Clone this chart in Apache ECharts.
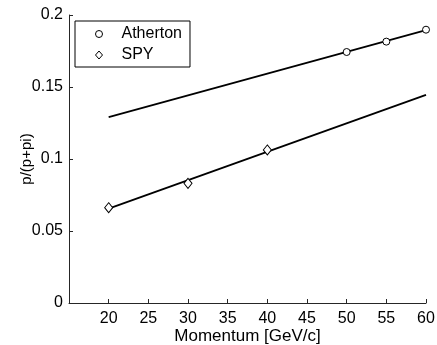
<!DOCTYPE html>
<html>
<head>
<meta charset="utf-8">
<script src="https://cdn.jsdelivr.net/npm/echarts@6/dist/echarts.min.js"></script>
<style>html,body{margin:0;padding:0;background:#fff}#c{width:437px;height:345px}</style>
</head>
<body>
<div id="c"></div>
<script>
var athertonX = [50, 55, 60];
var athertonY = [0.1743, 0.1815, 0.1898];
var spyX = [20, 30, 40];
var spyY = [0.0662, 0.0831, 0.1063];
var athertonFitX = [20, 60];
var athertonFitY = [0.129, 0.1895];
var spyFitX = [20, 60];
var spyFitY = [0.0655, 0.1445];
var xTicks = [20, 25, 30, 35, 40, 45, 50, 55, 60];
var yTicks = [0, 0.05, 0.1, 0.15, 0.2];

function pairs(xs, ys) { return xs.map(function (x, i) { return [x, ys[i]]; }); }

var font = 'Liberation Sans, Arial, sans-serif';
var chart = echarts.init(document.getElementById('c'), null, { renderer: 'canvas' });
chart.setOption({
  animation: false,
  backgroundColor: '#fff',
  grid: { left: 69, right: 11, top: 15, bottom: 42, containLabel: false, outerBoundsMode: 'none' },
  legend: {
    orient: 'vertical',
    left: 75, top: 21,
    padding: [5, 8, 4, 20],
    borderColor: '#000', borderWidth: 1, borderRadius: 0,
    backgroundColor: '#fff',
    itemWidth: 7, itemHeight: 8, itemGap: 5,
    itemStyle: { borderWidth: 1, borderColor: '#000', color: '#fff' },
    data: ['Atherton', 'SPY'],
    textStyle: { fontFamily: font, fontSize: 16, color: '#000', lineHeight: 16, padding: [0, 0, 0, 14] }
  },
  xAxis: {
    type: 'value', min: 15, max: 60, interval: 5,
    name: 'Momentum [GeV/c]', nameLocation: 'middle', nameGap: 25, nameMoveOverlap: false,
    nameTextStyle: { fontFamily: font, fontSize: 17, color: '#000' },
    axisLine: { show: true, onZero: false, lineStyle: { color: '#262626', width: 1 } },
    axisTick: { show: true, inside: true, length: 4, lineStyle: { color: '#262626' } },
    axisLabel: {
      fontFamily: font, fontSize: 16, color: '#000', margin: 8,
      formatter: function (v) { return xTicks.indexOf(v) >= 0 ? String(v) : ''; }
    },
    splitLine: { show: false }
  },
  yAxis: {
    type: 'value', min: 0, max: 0.2, interval: 0.05,
    name: 'p/(p+pi)', nameLocation: 'middle', nameGap: 35, nameMoveOverlap: false,
    nameTextStyle: { fontFamily: font, fontSize: 15, color: '#000' },
    axisLine: { show: true, lineStyle: { color: '#262626', width: 1 } },
    axisTick: { show: true, inside: true, length: 4, lineStyle: { color: '#262626' } },
    axisLabel: {
      fontFamily: font, fontSize: 16, color: '#000', margin: 6,
      formatter: function (v) {
        for (var i = 0; i < yTicks.length; i++) if (Math.abs(yTicks[i] - v) < 1e-9) return String(yTicks[i]);
        return '';
      }
    },
    splitLine: { show: false }
  },
  series: [
    {
      type: 'line', data: pairs(athertonFitX, athertonFitY), showSymbol: false, symbol: 'none',
      lineStyle: { color: '#000', width: 1.8 }, silent: true, z: 2
    },
    {
      type: 'line', data: pairs(spyFitX, spyFitY), showSymbol: false, symbol: 'none',
      lineStyle: { color: '#000', width: 1.8 }, silent: true, z: 2
    },
    {
      name: 'Atherton', type: 'scatter', data: pairs(athertonX, athertonY),
      symbol: 'circle', symbolSize: 7,
      itemStyle: { color: '#fff', borderColor: '#000', borderWidth: 1, opacity: 1 }, z: 3
    },
    {
      name: 'SPY', type: 'scatter', data: pairs(spyX, spyY),
      symbol: 'diamond', symbolSize: [8, 10],
      itemStyle: { color: '#fff', borderColor: '#000', borderWidth: 1, opacity: 1 }, z: 3
    }
  ]
});
</script>
</body>
</html>
